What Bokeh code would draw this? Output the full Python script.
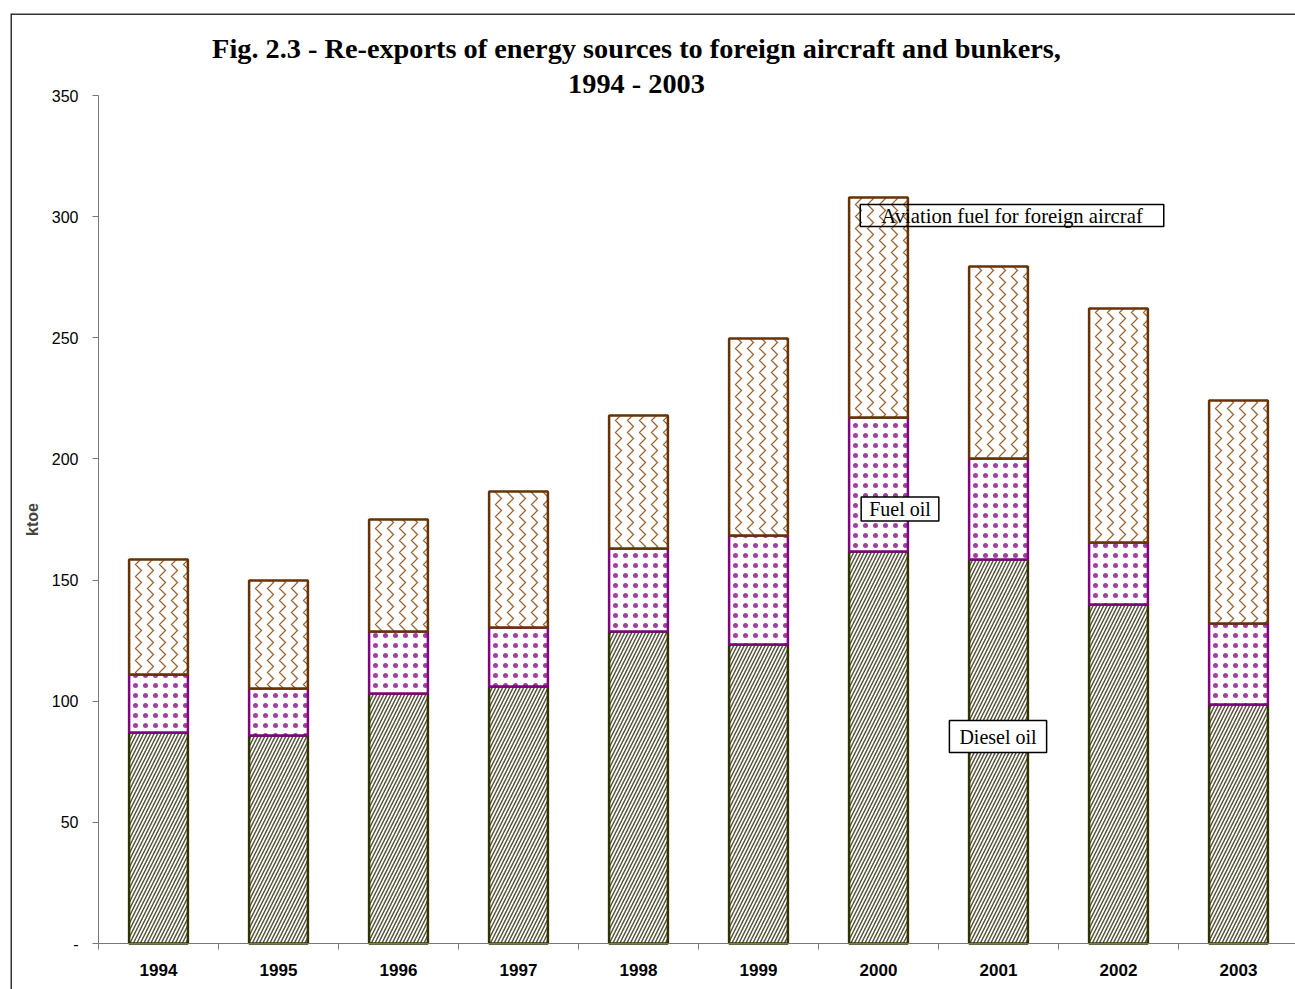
from bokeh.plotting import figure
from bokeh.models import ColumnDataSource, Range1d, FixedTicker, Label, Span
from bokeh.embed import file_html
from bokeh.resources import INLINE

# ---- data (ktoe) ----
years = ["1994", "1995", "1996", "1997", "1998", "1999", "2000", "2001", "2002", "2003"]
diesel_oil = [87.1, 85.8, 103.2, 106.1, 128.8, 123.4, 161.8, 158.5, 139.9, 98.6]
fuel_oil = [23.9, 19.4, 25.6, 24.3, 34.2, 45.0, 55.3, 41.7, 25.6, 33.5]
aviation_fuel = [47.5, 44.6, 46.2, 56.2, 54.9, 81.3, 90.8, 79.2, 96.6, 92.0]
series_names = ["Diesel oil", "Fuel oil", "Aviation fuel for foreign aircraf"]
y_ticks = [0, 50, 100, 150, 200, 250, 300, 350]
y_tick_labels = ["-", "50", "100", "150", "200", "250", "300", "350"]
title_lines = ["Fig. 2.3 - Re-exports of energy sources to foreign aircraft and bunkers,", "1994 - 2003"]

x_pos = [i + 0.5 for i in range(len(years))]
source = ColumnDataSource(dict(x=x_pos, diesel=diesel_oil, fuel=fuel_oil, aviation=aviation_fuel))

W, H = 1295, 989
PX_X = 120.0            # pixels per category
PX_Y = 848.0 / 350.0    # pixels per ktoe
X0, Y0 = 98, 943        # page position of the data origin
p = figure(width=W, height=H, output_backend="svg", toolbar_location=None,
           x_range=Range1d(-(X0 - 10) / PX_X, (W - X0) / PX_X),
           y_range=Range1d(-(H - Y0) / PX_Y, (Y0 - 13) / PX_Y),
           min_border_left=10, min_border_right=0, min_border_top=13, min_border_bottom=0)
p.outline_line_color = None
p.xgrid.visible = False
p.ygrid.visible = False
p.background_fill_color = "white"
p.border_fill_color = "white"

p.vbar_stack(["diesel", "fuel", "aviation"], x="x", width=0.49, source=source,
             fill_color=["white", "white", "white"],
             line_color=["#333300", "#800080", "#663300"],
             line_width=[2.5, 2.5, 2.5],
             hatch_pattern=["/", ".", ">"],
             hatch_color=["#55553a", "#a040a0", "#996633"],
             hatch_scale=[7, 10, 12],
             hatch_weight=[1.5, 1.6, 1.3])

# y axis
p.yaxis.fixed_location = 0
p.yaxis.bounds = (0, 350)
p.yaxis.ticker = FixedTicker(ticks=y_ticks)
p.yaxis.major_label_overrides = {t: l for t, l in zip(y_ticks, y_tick_labels)}
p.yaxis.major_tick_out = 6
p.yaxis.major_tick_in = 0
p.yaxis.minor_tick_line_color = None
p.yaxis.axis_line_color = "#777777"
p.yaxis.major_tick_line_color = "#777777"
p.yaxis.major_label_text_font = "Liberation Sans"
p.yaxis.major_label_text_font_size = "16px"
p.yaxis.major_label_text_color = "black"
p.yaxis.major_label_standoff = 14
p.yaxis.axis_label = "ktoe"
p.yaxis.axis_label_text_font = "Liberation Sans"
p.yaxis.axis_label_text_font_style = "bold"
p.yaxis.axis_label_text_font_size = "16px"
p.yaxis.axis_label_standoff = 8

# x axis
p.xaxis.fixed_location = 0
p.xaxis.bounds = (0, len(years))
p.xaxis.ticker = FixedTicker(ticks=x_pos, minor_ticks=list(range(len(years) + 1)))
p.xaxis.major_label_overrides = {x: y for x, y in zip(x_pos, years)}
p.xaxis.major_tick_out = 0
p.xaxis.major_tick_in = 0
p.xaxis.major_tick_line_color = None
p.xaxis.minor_tick_out = 6
p.xaxis.minor_tick_in = 0
p.xaxis.minor_tick_line_color = "#777777"
p.xaxis.axis_line_color = "#777777"
p.xaxis.major_label_text_font = "Liberation Sans"
p.xaxis.major_label_text_font_style = "bold"
p.xaxis.major_label_text_font_size = "17px"
p.xaxis.major_label_text_color = "black"
p.xaxis.major_label_standoff = 14

# title
for txt, ty in zip(title_lines, [(Y0 - 48) / PX_Y, (Y0 - 83) / PX_Y]):
    p.add_layout(Label(x=(636 - X0) / PX_X, y=ty, text=txt, text_align="center",
                       text_baseline="alphabetic", text_font="Liberation Serif",
                       text_font_style="bold", text_font_size="28.3px", text_color="black"))

# series labels (boxed)
label_specs = [
    (series_names[2], 1011.5, 215, (21, 0), None, "20.7px"),
    (series_names[1], 899.5, 508.5, (8, 1), "white", "20px"),
    (series_names[0], 997.5, 736, (10, 5), "white", "20px"),
]
for txt, px, py, pad, bg, fs in label_specs:
    p.add_layout(Label(x=(px - X0) / PX_X, y=(Y0 - py) / PX_Y, text=txt,
                       text_align="center", text_baseline="middle",
                       text_font="Liberation Serif", text_font_size=fs, text_color="black",
                       border_line_color="black", border_line_width=1.5,
                       background_fill_color=bg, padding=pad))

# outer chart border (left and top edges)
p.add_layout(Span(location=(10.5 - X0) / PX_X, dimension="height", line_color="#333333", line_width=2))
p.add_layout(Span(location=(Y0 - 13.5) / PX_Y, dimension="width", line_color="#333333", line_width=2))

open("out.html", "w").write(file_html(p, INLINE))
